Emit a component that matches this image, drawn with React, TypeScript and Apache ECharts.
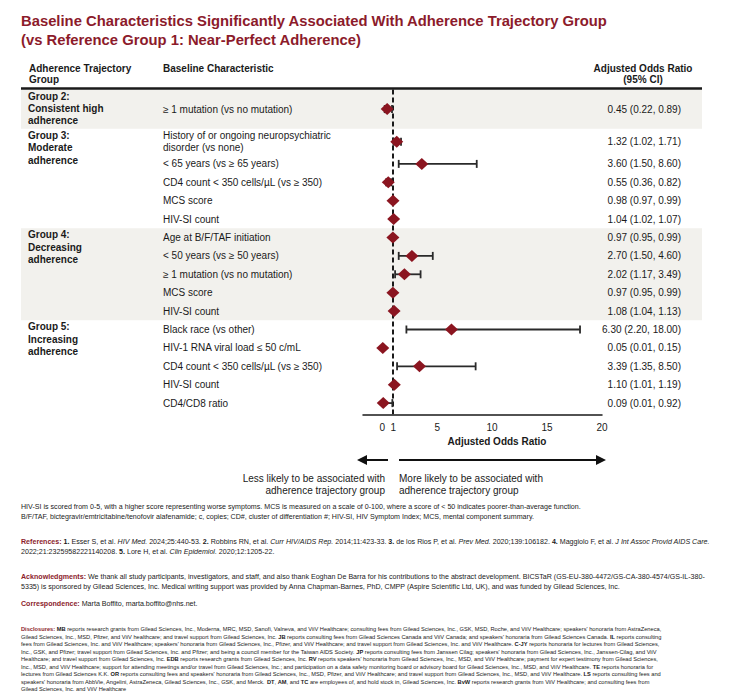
import React, { useEffect, useRef } from 'react';
import * as echarts from 'echarts';

// ---------- data ----------
const groupNames: string[][] = [
  ['Group 2:', 'Consistent high', 'adherence'],
  ['Group 3:', 'Moderate', 'adherence'],
  ['Group 4:', 'Decreasing', 'adherence'],
  ['Group 5:', 'Increasing', 'adherence'],
];
const shadedGroups = [true, false, true, false];
const groupOfRow = [0, 1, 1, 1, 1, 1, 2, 2, 2, 2, 2, 3, 3, 3, 3, 3];
const characteristics: string[][] = [
  ['≥ 1 mutation (vs no mutation)'],
  ['History of or ongoing neuropsychiatric', 'disorder (vs none)'],
  ['< 65 years (vs ≥ 65 years)'],
  ['CD4 count < 350 cells/µL (vs ≥ 350)'],
  ['MCS score'],
  ['HIV-SI count'],
  ['Age at B/F/TAF initiation'],
  ['< 50 years (vs ≥ 50 years)'],
  ['≥ 1 mutation (vs no mutation)'],
  ['MCS score'],
  ['HIV-SI count'],
  ['Black race (vs other)'],
  ['HIV-1 RNA viral load ≤ 50 c/mL'],
  ['CD4 count < 350 cells/µL (vs ≥ 350)'],
  ['HIV-SI count'],
  ['CD4/CD8 ratio'],
];
const oddsRatio = [0.45, 1.32, 3.6, 0.55, 0.98, 1.04, 0.97, 2.7, 2.02, 0.97, 1.08, 6.3, 0.05, 3.39, 1.1, 0.09];
const ciLow = [0.22, 1.02, 1.5, 0.36, 0.97, 1.02, 0.95, 1.5, 1.17, 0.95, 1.04, 2.2, 0.01, 1.35, 1.01, 0.01];
const ciHigh = [0.89, 1.71, 8.6, 0.82, 0.99, 1.07, 0.99, 4.6, 3.49, 0.99, 1.13, 18.0, 0.15, 8.5, 1.19, 0.92];
const tickValues = [0, 1, 5, 10, 15, 20];
const referenceValue = 1;

const titleLines = [
  'Baseline Characteristics Significantly Associated With Adherence Trajectory Group',
  '(vs Reference Group 1: Near-Perfect Adherence)',
];
const footnoteLines = [
  'HIV-SI is scored from 0-5, with a higher score representing worse symptoms. MCS is measured on a scale of 0-100, where a score of < 50 indicates poorer-than-average function.',
  'B/F/TAF, bictegravir/emtricitabine/tenofovir alafenamide; c, copies; CD#, cluster of differentiation #; HIV-SI, HIV Symptom Index; MCS, mental component summary.',
];
const referenceLines = [
  '{r|References:} {b|1.} Esser S, et al. {i|HIV Med.} 2024;25:440-53. {b|2.} Robbins RN, et al. {i|Curr HIV/AIDS Rep.} 2014;11:423-33. {b|3.} de los Rios P, et al. {i|Prev Med.} 2020;139:106182. {b|4.} Maggiolo F, et al. {i|J Int Assoc Provid AIDS Care.}',
  '2022;21:23259582221140208. {b|5.} Lore H, et al. {i|Clin Epidemiol.} 2020;12:1205-22.',
];
const ackLines = [
  '{r|Acknowledgments:} We thank all study participants, investigators, and staff, and also thank Eoghan De Barra for his contributions to the abstract development. BICSTaR (GS-EU-380-4472/GS-CA-380-4574/GS-IL-380-',
  '5335) is sponsored by Gilead Sciences, Inc. Medical writing support was provided by Anna Chapman-Barnes, PhD, CMPP (Aspire Scientific Ltd, UK), and was funded by Gilead Sciences, Inc.',
];
const correspondenceLine = '{r|Correspondence:} Marta Boffito, marta.boffito@nhs.net.';
const disclosureLines = [
  "{r|Disclosures:} {b|MB} reports research grants from Gilead Sciences, Inc., Moderna, MRC, MSD, Sanofi, Valneva, and ViiV Healthcare; consulting fees from Gilead Sciences, Inc., GSK, MSD, Roche, and ViiV Healthcare; speakers' honoraria from AstraZeneca,",
  "Gilead Sciences, Inc., MSD, Pfizer, and ViiV healthcare; and travel support from Gilead Sciences, Inc. {b|JB} reports consulting fees from Gilead Sciences Canada and ViiV Canada; and speakers' honoraria from Gilead Sciences Canada. {b|IL} reports consulting",
  "fees from Gilead Sciences, Inc. and ViiV Healthcare; speakers' honoraria from Gilead Sciences, Inc., Pfizer, and ViiV Healthcare; and travel support from Gilead Sciences, Inc. and ViiV Healthcare. {b|C-JY} reports honoraria for lectures from Gilead Sciences,",
  "Inc., GSK, and Pfizer; travel support from Gilead Sciences, Inc. and Pfizer; and being a council member for the Taiwan AIDS Society. {b|JP} reports consulting fees from Janssen Cilag; speakers' honoraria from Gilead Sciences, Inc., Janssen-Cilag, and ViiV",
  "Healthcare; and travel support from Gilead Sciences, Inc. {b|EDB} reports research grants from Gilead Sciences, Inc. {b|RV} reports speakers' honoraria from Gilead Sciences, Inc., MSD, and ViiV Healthcare; payment for expert testimony from Gilead Sciences,",
  "Inc., MSD, and ViiV Healthcare; support for attending meetings and/or travel from Gilead Sciences, Inc.; and participation on a data safety monitoring board or advisory board for Gilead Sciences, Inc., MSD, and ViiV Healthcare. {b|TE} reports honoraria for",
  "lectures from Gilead Sciences K.K. {b|OR} reports consulting fees and speakers' honoraria from Gilead Sciences, Inc., MSD, Pfizer, and ViiV Healthcare; and travel support from Gilead Sciences, Inc., MSD, and ViiV Healthcare. {b|LS} reports consulting fees and",
  "speakers' honoraria from AbbVie, Angelini, AstraZeneca, Gilead Sciences, Inc., GSK, and Merck. {b|DT}, {b|AM}, and {b|TC} are employees of, and hold stock in, Gilead Sciences, Inc. {b|BvW} reports research grants from ViiV Healthcare; and consulting fees from",
  'Gilead Sciences, Inc. and ViiV Healthcare',
];

// ---------- styling / layout constants ----------
const FONT = "'Liberation Sans', Arial, Helvetica, sans-serif";
const RED = '#8C1B2B';
const DIAMOND = '#8B1520';
const INK = '#1a1a1a';
const BAND = '#F2F1ED';
const ROW_H = 18.4;
const EXTRA_LINE = 7.6;
const LABEL_LINE = 12.4;
const GRID_TOP = 89.5;
const GRID_LEFT = 363;
const GRID_WIDTH = 239;
const X_MIN = -1.75;
const X_MAX = 20;
const TABLE_LEFT = 21;
const TABLE_RIGHT = 702;
const CHAR_X = 163;
const GROUP_X = 28;
const OR_X = 681;

// layout of rows in y-axis units (1 unit = 1 px)
const rowCenter: number[] = [];
const bands: { start: number; end: number }[] = [];
(() => {
  let cur = 0;
  groupNames.forEach((g, gi) => {
    const rows = groupOfRow.map((v, i) => (v === gi ? i : -1)).filter((i) => i >= 0);
    const hs = rows.map((r) => ROW_H + (characteristics[r].length - 1) * EXTRA_LINE);
    const h = hs.reduce((a, b) => a + b, 0);
    const bandH = Math.max(h, g.length * LABEL_LINE + 2);
    let y = cur + (bandH - h) / 2;
    rows.forEach((r, k) => {
      rowCenter[r] = y + hs[k] / 2;
      y += hs[k];
    });
    bands.push({ start: cur, end: cur + bandH });
    cur += bandH;
  });
})();
const yMax = bands[bands.length - 1].end + 2;

const fmt = (v: number) => v.toFixed(2);

function txt(x: number, y: number, text: string, o: any = {}) {
  return {
    type: 'text',
    x,
    y,
    silent: true,
    style: {
      text,
      fill: o.fill || INK,
      fontSize: o.fontSize || 10,
      fontWeight: o.fontWeight || 'normal',
      fontFamily: FONT,
      textAlign: o.align || 'left',
      textVerticalAlign: 'middle',
      rich: o.rich,
    },
  };
}

function richFor(size: number) {
  return {
    r: { fill: RED, fontWeight: 'bold', fontSize: size, fontFamily: FONT },
    b: { fill: INK, fontWeight: 'bold', fontSize: size, fontFamily: FONT },
    i: { fill: INK, fontStyle: 'italic', fontSize: size, fontFamily: FONT },
  };
}

export default function App() {
  const ref = useRef<HTMLDivElement>(null);
  useEffect(() => {
    if (!ref.current) return;
    const chart = echarts.init(ref.current, null, { renderer: 'svg' });

    const graphics: any[] = [];
    titleLines.forEach((t, k) =>
      graphics.push(txt(21, 20.5 + k * 19.5, t, { fontSize: 14.8, fontWeight: 'bold', fill: RED }))
    );
    graphics.push(txt(29, 68, 'Adherence Trajectory', { fontWeight: 'bold' }));
    graphics.push(txt(29, 79.5, 'Group', { fontWeight: 'bold' }));
    graphics.push(txt(CHAR_X, 68, 'Baseline Characteristic', { fontWeight: 'bold' }));
    graphics.push(txt(643, 68, 'Adjusted Odds Ratio', { fontWeight: 'bold', align: 'center' }));
    graphics.push(txt(643, 79.5, '(95% CI)', { fontWeight: 'bold', align: 'center' }));
    graphics.push({
      type: 'line',
      silent: true,
      z: 20,
      shape: { x1: TABLE_LEFT, y1: 88.5, x2: TABLE_RIGHT, y2: 88.5 },
      style: { stroke: INK, lineWidth: 2.6 },
    });
    // direction arrows
    graphics.push({ type: 'line', silent: true, shape: { x1: 388, y1: 460, x2: 364, y2: 460 }, style: { stroke: '#111', lineWidth: 2 } });
    graphics.push({ type: 'polygon', silent: true, shape: { points: [[357, 460], [367, 455], [367, 465]] }, style: { fill: '#111' } });
    graphics.push({ type: 'line', silent: true, shape: { x1: 399, y1: 460, x2: 598, y2: 460 }, style: { stroke: '#111', lineWidth: 2 } });
    graphics.push({ type: 'polygon', silent: true, shape: { points: [[606, 460], [596, 455], [596, 465]] }, style: { fill: '#111' } });
    graphics.push(txt(385, 478, 'Less likely to be associated with', { align: 'right' }));
    graphics.push(txt(385, 490, 'adherence trajectory group', { align: 'right' }));
    graphics.push(txt(399, 478, 'More likely to be associated with'));
    graphics.push(txt(399, 490, 'adherence trajectory group'));
    // footnotes
    const FS = 7.1;
    footnoteLines.forEach((t, k) => graphics.push(txt(21, 507 + k * 9.5, t, { fontSize: FS })));
    referenceLines.forEach((t, k) => graphics.push(txt(21, 542 + k * 9.5, t, { fontSize: FS, rich: richFor(FS) })));
    ackLines.forEach((t, k) => graphics.push(txt(21, 577 + k * 9.5, t, { fontSize: FS, rich: richFor(FS) })));
    graphics.push(txt(21, 604, correspondenceLine, { fontSize: FS, rich: richFor(FS) }));
    const DS = 5.7;
    disclosureLines.forEach((t, k) => graphics.push(txt(21, 629 + k * 7.5, t, { fontSize: DS, rich: richFor(DS) })));

    const option: any = {
      animation: false,
      backgroundColor: '#ffffff',
      textStyle: { fontFamily: FONT },
      grid: { left: GRID_LEFT, top: GRID_TOP, width: GRID_WIDTH, height: yMax, outerBoundsMode: 'none', containLabel: false },
      xAxis: {
        type: 'value',
        min: X_MIN,
        max: X_MAX,
        axisLine: { show: true, onZero: false, lineStyle: { color: INK, width: 1.5 } },
        axisTick: { show: false },
        splitLine: { show: false },
        axisLabel: { customValues: tickValues, color: INK, fontSize: 10, fontFamily: FONT, margin: 8 },
        name: 'Adjusted Odds Ratio',
        nameLocation: 'middle',
        nameGap: 22,
        nameTextStyle: { fontWeight: 'bold', fontSize: 10, color: INK, fontFamily: FONT, padding: [0, 0, 0, 29] },
      },
      yAxis: { type: 'value', min: 0, max: yMax, inverse: true, show: false },
      graphic: { elements: graphics },
      series: [
        {
          type: 'custom',
          name: 'bands',
          z: 0,
          silent: true,
          clip: false,
          data: bands.map((b, gi) => [gi, b.start, b.end]),
          renderItem: (params: any, api: any) => {
            const gi = api.value(0);
            const y0 = api.coord([0, api.value(1)])[1];
            const y1 = api.coord([0, api.value(2)])[1];
            const children: any[] = [];
            if (shadedGroups[gi]) {
              children.push({
                type: 'rect',
                shape: { x: TABLE_LEFT, y: y0, width: TABLE_RIGHT - TABLE_LEFT, height: y1 - y0 },
                style: { fill: BAND },
              });
            }
            groupNames[gi].forEach((t, k) => {
              children.push({
                type: 'text',
                x: GROUP_X,
                y: y0 + 6.5 + k * LABEL_LINE,
                style: { text: t, fill: INK, fontSize: 10, fontWeight: 'bold', fontFamily: FONT, textAlign: 'left', textVerticalAlign: 'middle' },
              });
            });
            return { type: 'group', children };
          },
        },
        {
          type: 'custom',
          name: 'rows',
          z: 2,
          silent: true,
          clip: false,
          data: rowCenter.map((c, i) => [i, c]),
          renderItem: (params: any, api: any) => {
            const i = params.dataIndex;
            const y = api.coord([0, api.value(1)])[1];
            const lines = characteristics[i];
            const children: any[] = lines.map((t, k) => ({
              type: 'text',
              x: CHAR_X,
              y: y + (k - (lines.length - 1) / 2) * 12,
              style: { text: t, fill: INK, fontSize: 10, fontFamily: FONT, textAlign: 'left', textVerticalAlign: 'middle' },
            }));
            children.push({
              type: 'text',
              x: OR_X,
              y,
              style: {
                text: `${fmt(oddsRatio[i])} (${fmt(ciLow[i])}, ${fmt(ciHigh[i])})`,
                fill: INK,
                fontSize: 10,
                fontFamily: FONT,
                textAlign: 'right',
                textVerticalAlign: 'middle',
              },
            });
            return { type: 'group', children };
          },
        },
        {
          type: 'custom',
          name: 'ci',
          z: 6,
          silent: true,
          clip: false,
          data: oddsRatio.map((_, i) => [ciLow[i], rowCenter[i], ciHigh[i]]),
          renderItem: (params: any, api: any) => {
            const p0 = api.coord([api.value(0), api.value(1)]);
            const p1 = api.coord([api.value(2), api.value(1)]);
            const st = { stroke: '#2a2a2a', lineWidth: 1.8 };
            return {
              type: 'group',
              children: [
                { type: 'line', shape: { x1: p0[0], y1: p0[1], x2: p1[0], y2: p1[1] }, style: st },
                { type: 'line', shape: { x1: p0[0], y1: p0[1] - 4, x2: p0[0], y2: p0[1] + 4 }, style: st },
                { type: 'line', shape: { x1: p1[0], y1: p1[1] - 4, x2: p1[0], y2: p1[1] + 4 }, style: st },
              ],
            };
          },
        },
        {
          type: 'scatter',
          name: 'Adjusted OR',
          z: 10,
          symbol: 'diamond',
          symbolSize: [13, 12],
          itemStyle: { color: DIAMOND, opacity: 1 },
          data: oddsRatio.map((v, i) => [v, rowCenter[i]]),
          markLine: {
            silent: true,
            symbol: 'none',
            label: { show: false },
            lineStyle: { type: [5, 3], color: INK, width: 2 },
            data: [{ xAxis: referenceValue }],
          },
        },
      ],
    };
    chart.setOption(option);
    return () => chart.dispose();
  }, []);
  return (
    <div
      ref={ref}
      style={{ position: 'absolute', left: 0, top: 0, width: 731, height: 697, background: '#fff' }}
    />
  );
}
